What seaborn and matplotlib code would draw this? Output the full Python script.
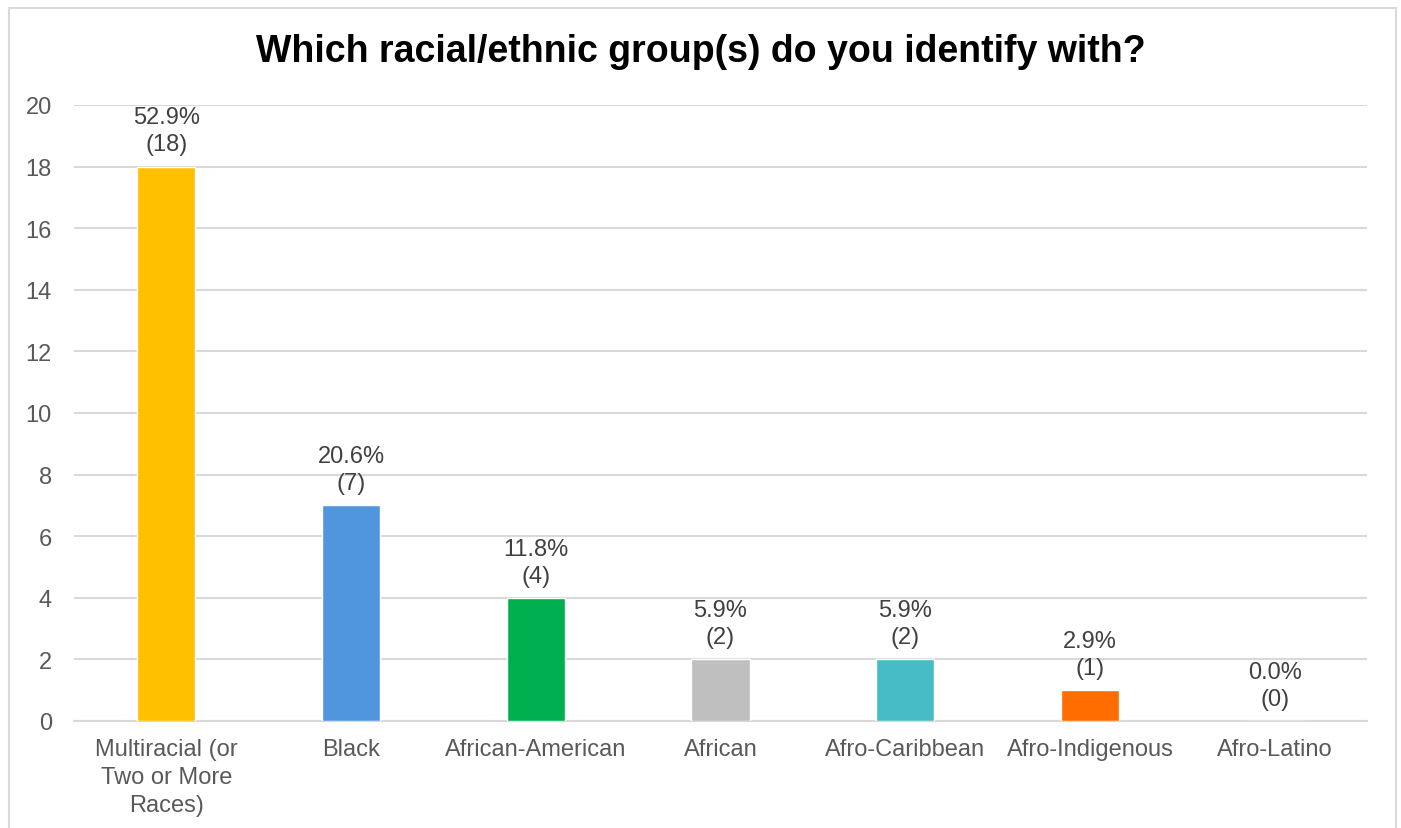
import matplotlib
matplotlib.use("Agg")
import matplotlib.pyplot as plt
from matplotlib.patches import Rectangle
import seaborn as sns
import pandas as pd

categories = ["Multiracial (or\nTwo or More\nRaces)", "Black", "African-American",
              "African", "Afro-Caribbean", "Afro-Indigenous", "Afro-Latino"]
counts = [18, 7, 4, 2, 2, 1, 0]
colors = ["#FFC000", "#5096DC", "#00B050", "#BFBFBF", "#47BCC7", "#FF6D00", "#A5A5A5"]
yticks = [0, 2, 4, 6, 8, 10, 12, 14, 16, 18, 20]
title = "Which racial/ethnic group(s) do you identify with?"

total = sum(counts)
df = pd.DataFrame({"group": categories, "count": counts})

sns.set_theme(style="white")
plt.rcParams["font.family"] = ["Liberation Sans", "DejaVu Sans"]

fig = plt.figure(figsize=(14.01, 8.29), dpi=100)
ax = fig.add_axes([74 / 1401, 1 - 722 / 829, 1293 / 1401, 616 / 829])

sns.barplot(data=df, x="group", y="count", hue="group", palette=colors,
            legend=False, width=0.314, saturation=1, ax=ax, zorder=3)

ax.set_ylim(0, 20)
ax.set_xlim(-0.5, len(categories) - 0.5)
ax.set_yticks(yticks)
ax.yaxis.grid(True, color="#D9D9D9", linewidth=1.5, zorder=0)
ax.set_axisbelow(True)
for side in ["left", "right", "top"]:
    ax.spines[side].set_visible(False)
ax.spines["bottom"].set_color("#D9D9D9")
ax.spines["bottom"].set_linewidth(1.5)
ax.tick_params(axis="both", length=0, labelsize=17, colors="#595959")
ax.tick_params(axis="x", pad=12)
ax.tick_params(axis="y", pad=16)
ax.set_xlabel("")
ax.set_ylabel("")
for lbl in ax.get_xticklabels():
    lbl.set_linespacing(1.35)

for i, c in enumerate(counts):
    ax.annotate(f"{100 * c / total:.1f}%\n({c})", xy=(i, c), xytext=(0, 8),
                textcoords="offset points", ha="center", va="bottom",
                fontsize=17, color="#404040", linespacing=1.3)

fig.text(0.5, 1 - 52 / 829, title, ha="center", va="center",
         fontsize=27, fontweight="bold", color="black")

fig.patches.append(Rectangle((9 / 1401, -0.05), 1387 / 1401, 1.05 - 9 / 829,
                             transform=fig.transFigure, fill=False,
                             edgecolor="#D9D9D9", linewidth=1.5))

fig.savefig("out.png", dpi=100)
